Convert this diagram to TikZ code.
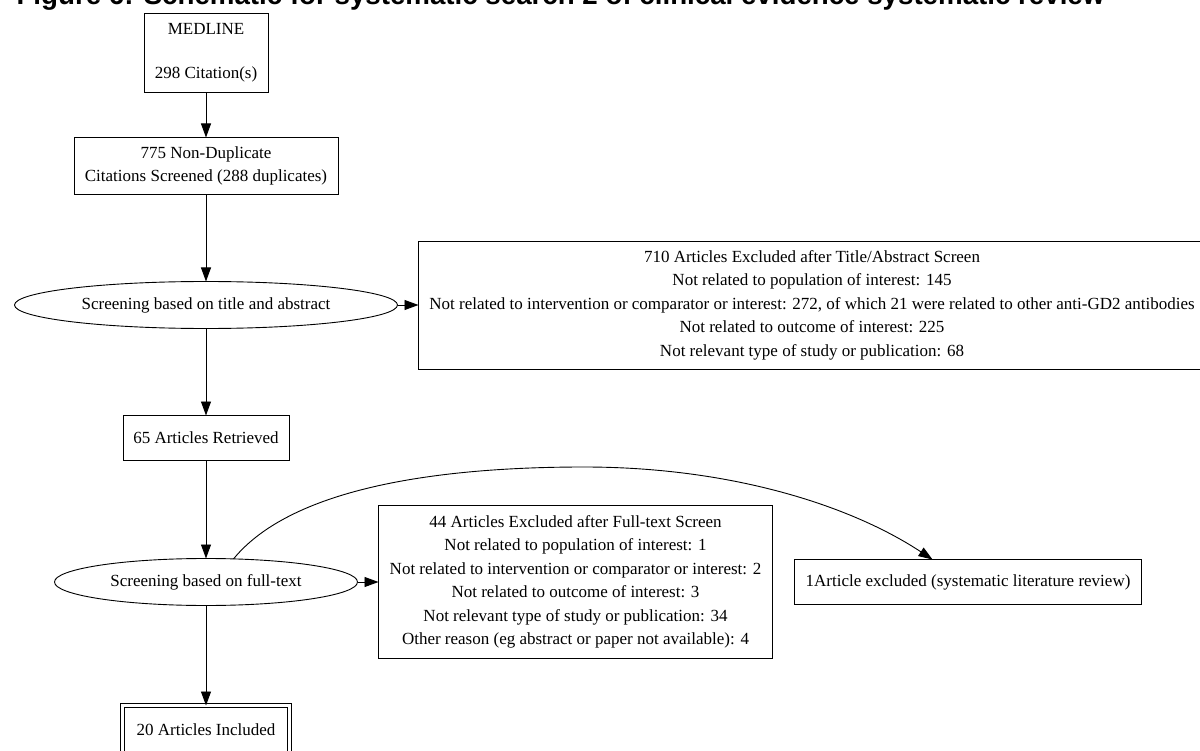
\documentclass[tikz,border=0pt]{standalone}
\usepackage{fontspec}
\setmainfont{Liberation Serif}
\newfontfamily\titlefont{Liberation Sans}
\usepackage{tikz}
\usetikzlibrary{arrows.meta,positioning,calc,shapes.geometric}
\newcommand{\flowfont}{\fontsize{17}{23.5}\selectfont}

\begin{document}
\begin{tikzpicture}[
      x=1pt, y=-1pt,
      box/.style={draw=black, line width=0.9pt, fill=white, align=center,
                  inner sep=4pt, outer sep=0pt, font=\flowfont},
      screen/.style={ellipse, draw=black, line width=0.9pt, inner sep=0pt,
                  outer sep=0pt, minimum height=47pt, font=\flowfont},
      arrow/.style={-{Triangle[length=14pt,width=10pt]}, line width=0.9pt, draw=black}
    ]
      \useasboundingbox (0,0) rectangle (1200,751);
      \node[anchor=base west, font=\titlefont\bfseries\fontsize{27.7}{30}\selectfont]
        (title) at (13,5) {Figure 6: Schematic for systematic search 2 of clinical evidence systematic review};

      \node[box, minimum width=124pt, minimum height=79pt] (src) at (206,53)
        {MEDLINE\\[20.5pt]298 Citation(s)};
      \node[box, minimum width=264pt, minimum height=57pt, below=45pt of src] (nodup)
        {775 Non-Duplicate\\Citations Screened (288 duplicates)};
      \node[screen, minimum width=383pt, below=87pt of nodup] (scr1)
        {Screening based on title and abstract};
      \node[box, minimum width=787pt, minimum height=128pt, right=21pt of scr1] (excl1)
        {710 Articles Excluded after Title/Abstract Screen\\
         Not related to population of interest: 145\\
         Not related to intervention or comparator or interest: 272, of which 21 were related to other anti-GD2 antibodies\\
         Not related to outcome of interest: 225\\
         Not relevant type of study or publication: 68};
      \node[box, minimum width=166pt, minimum height=45pt, below=87pt of scr1] (ret)
        {65 Articles Retrieved};
      \node[screen, minimum width=303pt, below=98pt of ret] (scr2)
        {Screening based on full-text};
      \node[box, minimum width=394pt, minimum height=153pt, right=21pt of scr2] (excl2)
        {44 Articles Excluded after Full-text Screen\\
         Not related to population of interest: 1\\
         Not related to intervention or comparator or interest: 2\\
         Not related to outcome of interest: 3\\
         Not relevant type of study or publication: 34\\
         Other reason (eg abstract or paper not available): 4};
      \node[box, minimum width=347pt, minimum height=45pt, right=22pt of excl2] (slr)
        {1Article excluded (systematic literature review)};
      \node[box, double, double distance=3pt, minimum width=167pt, minimum height=49pt,
            below=100pt of scr2] (incl) {20 Articles Included};

      \draw[arrow] (src) -- (nodup);
      \draw[arrow] (nodup) -- (scr1);
      \draw[arrow] (scr1) -- (excl1);
      \draw[arrow] (scr1) -- (ret);
      \draw[arrow] (ret) -- (scr2);
      \draw[arrow] (scr2) -- (excl2);
      \draw[arrow] (scr2) -- (incl);
      \draw[arrow] (scr2.40) .. controls (290,490) and (430,467) .. (584,467)
        .. controls (730,467) and (850,505) .. ($(slr.north)+(-35.5,0)$);
    \end{tikzpicture}
\end{document}
